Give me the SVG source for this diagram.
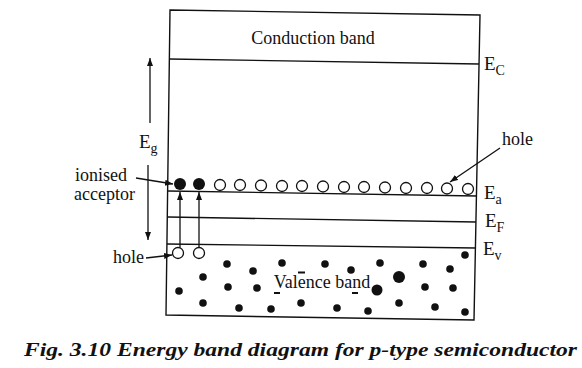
<svg xmlns="http://www.w3.org/2000/svg" width="582" height="368" viewBox="0 0 582 368">
<style>
.ln{stroke:#111;stroke-width:1.4;fill:none}
.ar{stroke:#111;stroke-width:1.3;fill:none;marker-end:url(#ah)}
.t{font-family:"Liberation Serif","Times New Roman",serif;fill:#111}
.lab{font-size:18px}
.E{font-size:19px}
.sub{font-size:14px}
.open{fill:#fff;stroke:#111;stroke-width:1.3}
.dot{fill:#111}
</style>
<defs>
<marker id="ah" markerUnits="userSpaceOnUse" markerWidth="9" markerHeight="7" refX="8" refY="3" orient="auto">
<path d="M0,0 L8,3 L0,6 z" fill="#111"/>
</marker>
</defs>
<rect width="582" height="368" fill="#fff"/>

<g id="band-box">
<polygon class="ln" points="170,10 480,15 474,320 166,315"/>
</g>

<g id="conduction-band">
<line class="ln" x1="169" y1="59" x2="479" y2="64"/>
<text class="t" x="313" y="44" font-size="18" text-anchor="middle">Conduction band</text>
</g>

<g id="levels">
<line class="ln" x1="168" y1="191" x2="477" y2="196"/>
<line class="ln" x1="168" y1="217" x2="476" y2="222"/>
<line class="ln" x1="167" y1="244" x2="476" y2="248"/>
</g>

<g id="level-labels">
<text class="t E" x="484" y="70">E<tspan class="sub" dy="5">C</tspan></text>
<text class="t E" x="484" y="199">E<tspan class="sub" dy="5">a</tspan></text>
<text class="t E" x="485" y="227">E<tspan class="sub" dy="5">F</tspan></text>
<text class="t E" x="483" y="255">E<tspan class="sub" dy="5">v</tspan></text>
</g>

<g id="acceptor-level">
<circle class="dot" cx="180" cy="184" r="6"/>
<circle class="dot" cx="199" cy="184" r="6"/>
<circle class="open" cx="220" cy="185" r="5.5"/>
<circle class="open" cx="240" cy="185" r="5.5"/>
<circle class="open" cx="261" cy="185.5" r="5.5"/>
<circle class="open" cx="282" cy="186" r="5.5"/>
<circle class="open" cx="302" cy="186" r="5.5"/>
<circle class="open" cx="323" cy="186.5" r="5.5"/>
<circle class="open" cx="344" cy="187" r="5.5"/>
<circle class="open" cx="364" cy="187" r="5.5"/>
<circle class="open" cx="385" cy="187.5" r="5.5"/>
<circle class="open" cx="406" cy="188" r="5.5"/>
<circle class="open" cx="427" cy="188" r="5.5"/>
<circle class="open" cx="447" cy="188.5" r="5.5"/>
<circle class="open" cx="468" cy="189" r="5.5"/>
</g>

<g id="valence-holes">
<circle class="open" cx="178" cy="253" r="5.5"/>
<circle class="open" cx="199" cy="253" r="5.5"/>
</g>

<g id="valence-band">
<g class="dot">
<circle cx="465" cy="255" r="3.8"/>
<circle cx="227" cy="264" r="3.8"/>
<circle cx="282" cy="263" r="3.8"/>
<circle cx="325" cy="264" r="3.8"/>
<circle cx="351" cy="270" r="3.8"/>
<circle cx="380" cy="263" r="3.8"/>
<circle cx="423" cy="264" r="3.8"/>
<circle cx="450" cy="269" r="3.8"/>
<circle cx="253" cy="271" r="3.8"/>
<circle cx="203" cy="277" r="3.8"/>
<circle cx="399" cy="277" r="6"/>
<circle cx="228" cy="287" r="3.8"/>
<circle cx="257" cy="288" r="3.8"/>
<circle cx="179" cy="291" r="3.8"/>
<circle cx="377" cy="290" r="5.5"/>
<circle cx="425" cy="287" r="3.8"/>
<circle cx="453" cy="288" r="3.8"/>
<circle cx="203" cy="303" r="3.8"/>
<circle cx="239" cy="308" r="3.8"/>
<circle cx="271" cy="309" r="3.8"/>
<circle cx="301" cy="303" r="3.8"/>
<circle cx="337" cy="308" r="3.8"/>
<circle cx="368" cy="311" r="3.8"/>
<circle cx="399" cy="303" r="3.8"/>
<circle cx="435" cy="307" r="3.8"/>
<circle cx="465" cy="312" r="3.8"/>
</g>
<g class="ln">
<line x1="298" y1="272.5" x2="305" y2="272.5" stroke-width="2"/>
<line x1="274" y1="293" x2="280" y2="293" stroke-width="2"/>
<line x1="352" y1="293" x2="358" y2="293" stroke-width="2"/>
</g>
<text class="t" x="322" y="288" font-size="18" text-anchor="middle">Valence band</text>
</g>

<g id="gap-label">
<text class="t E" x="139" y="148">E<tspan class="sub" dy="5">g</tspan></text>
</g>

<g id="side-labels">
<text class="t lab" x="75" y="181">ionised</text>
<text class="t lab" x="74" y="200">acceptor</text>
<text class="t lab" x="113" y="263">hole</text>
<text class="t lab" x="502" y="145">hole</text>
</g>

<g id="connectors">
<line class="ar" x1="150" y1="123" x2="150" y2="58"/>
<line class="ar" x1="148" y1="165" x2="148" y2="240"/>
<line class="ar" x1="180" y1="247.5" x2="180" y2="192"/>
<line class="ar" x1="199" y1="247.5" x2="199" y2="192"/>
<line class="ar" x1="136" y1="178" x2="173" y2="184"/>
<line class="ar" x1="146" y1="258" x2="172" y2="255"/>
<line class="ar" x1="500" y1="148" x2="450" y2="182"/>
</g>

<g id="caption">
<text class="t" x="24" y="356" font-size="18" font-weight="bold" font-style="italic" textLength="553" lengthAdjust="spacingAndGlyphs">Fig. 3.10 Energy band diagram for p-type semiconductor</text>
</g>
</svg>
